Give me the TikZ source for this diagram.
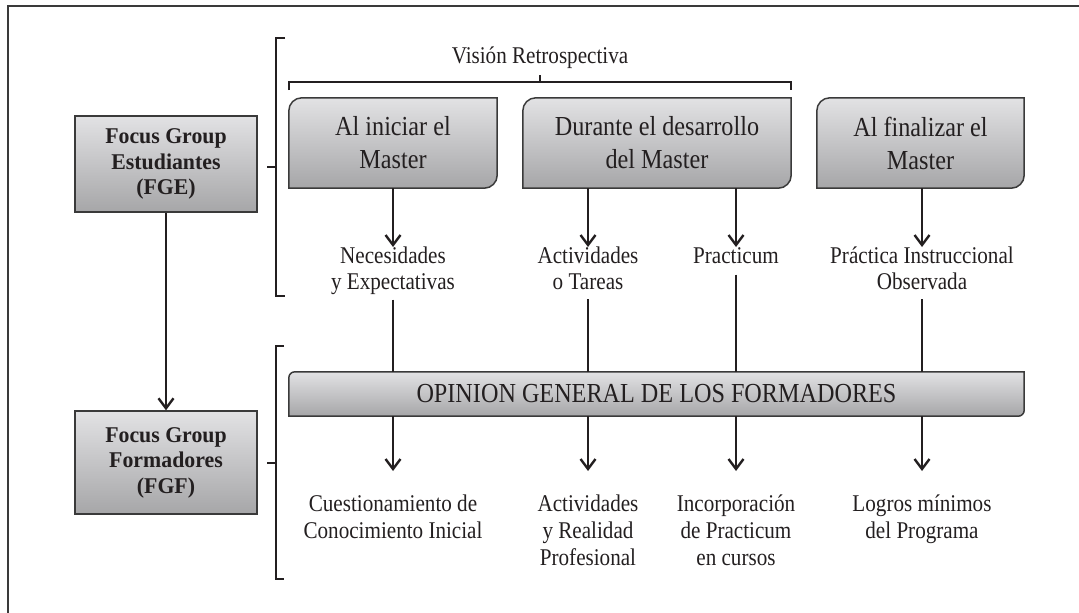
\documentclass[tikz,border=0pt]{standalone}
\usepackage{fontspec}
\setmainfont{Liberation Serif}[FakeStretch=0.88]
\newfontfamily\boldserif{Liberation Serif}[FakeStretch=0.97]
\usetikzlibrary{arrows.meta,backgrounds,calc}
\definecolor{ink}{HTML}{231F20}
\definecolor{edge}{HTML}{3A3A3A}
\definecolor{shtop}{HTML}{E2E2E4}
\definecolor{shbot}{HTML}{A6A6A8}
\tikzset{
 fgbox/.style={minimum width=182pt, inner sep=0pt, draw=edge, line width=1.5pt, top color=shtop, bottom color=shbot, font=\boldserif\fontsize{22.5}{25.5}\selectfont\bfseries, align=center, text=ink},
 stage/.style={inner sep=0pt, font=\fontsize{27.5}{33}\selectfont, align=center, minimum height=90pt, text=ink},
 shapefill/.style={draw=edge, line width=1.5pt, top color=shtop, bottom color=shbot},
 lab/.style={inner sep=0pt, font=\fontsize{24}{26}\selectfont, align=center, anchor=north, text=ink},
 blab/.style={inner sep=0pt, font=\fontsize{24}{27}\selectfont, align=center, anchor=north, text=ink},
 conn/.style={draw=ink, line width=2.4pt},
 arr/.style={conn, -{Straight Barb[length=10pt,width=15pt]}},
 brk/.style={draw=ink, line width=2.4pt},
}
\newcommand{\cutbox}[2]{%
 \path[shapefill] (#1.south west) -- ([yshift=-#2]#1.north west) arc[start angle=180,end angle=90,radius=#2] -- (#1.north east) -- ([yshift=#2]#1.south east) arc[start angle=0,end angle=-90,radius=#2] -- cycle;}
\begin{document}
\begin{tikzpicture}[x=1pt,y=1pt]
\useasboundingbox (0,0) rectangle (1079,-613);
\draw[edge, line width=2pt] (8,-613) -- (8,-6) -- (1079,-6);

% left boxes
\node[fgbox, minimum height=96pt] (fge) at (166,-164) {Focus Group\\Estudiantes\\(FGE)};
\node[fgbox, minimum height=103pt] (fgf) at (166,-462.5) {Focus Group\\Formadores\\(FGF)};

% stage boxes
\node[stage, minimum width=208pt] (s1) at (393,-143) {Al iniciar el\\Master};
\node[stage, minimum width=268pt] (s2) at (657,-143) {Durante el desarrollo\\del Master};
\node[stage, minimum width=207pt] (s3) at (920.5,-143) {Al finalizar el\\Master};
\node[inner sep=0pt, font=\fontsize{27.5}{30}\selectfont, minimum width=735pt, minimum height=44pt, text=ink] (bar) at (656.5,-394) {OPINION GENERAL DE LOS FORMADORES};

\begin{scope}[on background layer]
 \cutbox{s1}{13pt}
 \cutbox{s2}{13pt}
 \cutbox{s3}{13pt}
 \cutbox{bar}{6pt}
\end{scope}

% brace title
\node[inner sep=0pt, anchor=base, font=\fontsize{24}{26}\selectfont, text=ink] (vr) at (540,-63) {Visión Retrospectiva};
\draw[brk] (289,-90) -- (289,-82) -- (791,-82) -- (791,-90);
\draw[brk] (540,-82) -- (540,-75);

% brackets
\draw[brk] (285,-38) -- (276,-38) -- (276,-296) -- (285,-296);
\draw[brk] (276,-167) -- (267,-167);
\draw[brk] (284,-346) -- (276,-346) -- (276,-579) -- (284,-579);
\draw[brk] (276,-463) -- (267,-463);

% upper labels
\node[lab] (nec) at (393,-247) {Necesidades\\y Expectativas};
\node[lab] (act) at (588,-247) {Actividades\\o Tareas};
\node[lab] (pra) at (736,-247) {Practicum};
\node[lab] (pio) at (922,-247) {Práctica Instruccional\\Observada};

% lower labels
\node[blab] (cue) at (393,-495) {Cuestionamiento de\\Conocimiento Inicial};
\node[blab] (arp) at (588,-495) {Actividades\\y Realidad\\Profesional};
\node[blab] (inc) at (736,-495) {Incorporación\\de Practicum\\en cursos};
\node[blab] (log) at (922,-495) {Logros mínimos\\del Programa};

% connectors
\draw[arr] (fge.south) -- (fgf.north);
\draw[arr] (s1.south -| nec.north) -- (nec.north);
\draw[arr] (s2.south -| act.north) -- (act.north);
\draw[arr] (s2.south -| pra.north) -- (pra.north);
\draw[arr] (s3.south -| pio.north) -- (pio.north);

\draw[conn, shorten <=4.5pt] (nec.south) -- (nec.south |- bar.north);
\draw[conn, shorten <=9pt] (act.south) -- (act.south |- bar.north);
\draw[conn, shorten <=11pt] (pra.south) -- (pra.south |- bar.north);
\draw[conn, shorten <=9pt] (pio.south) -- (pio.south |- bar.north);

\draw[arr, shorten >=24pt] (bar.south -| cue.north) -- (cue.north);
\draw[arr, shorten >=24pt] (bar.south -| arp.north) -- (arp.north);
\draw[arr, shorten >=24pt] (bar.south -| inc.north) -- (inc.north);
\draw[arr, shorten >=24pt] (bar.south -| log.north) -- (log.north);
\end{tikzpicture}
\end{document}
